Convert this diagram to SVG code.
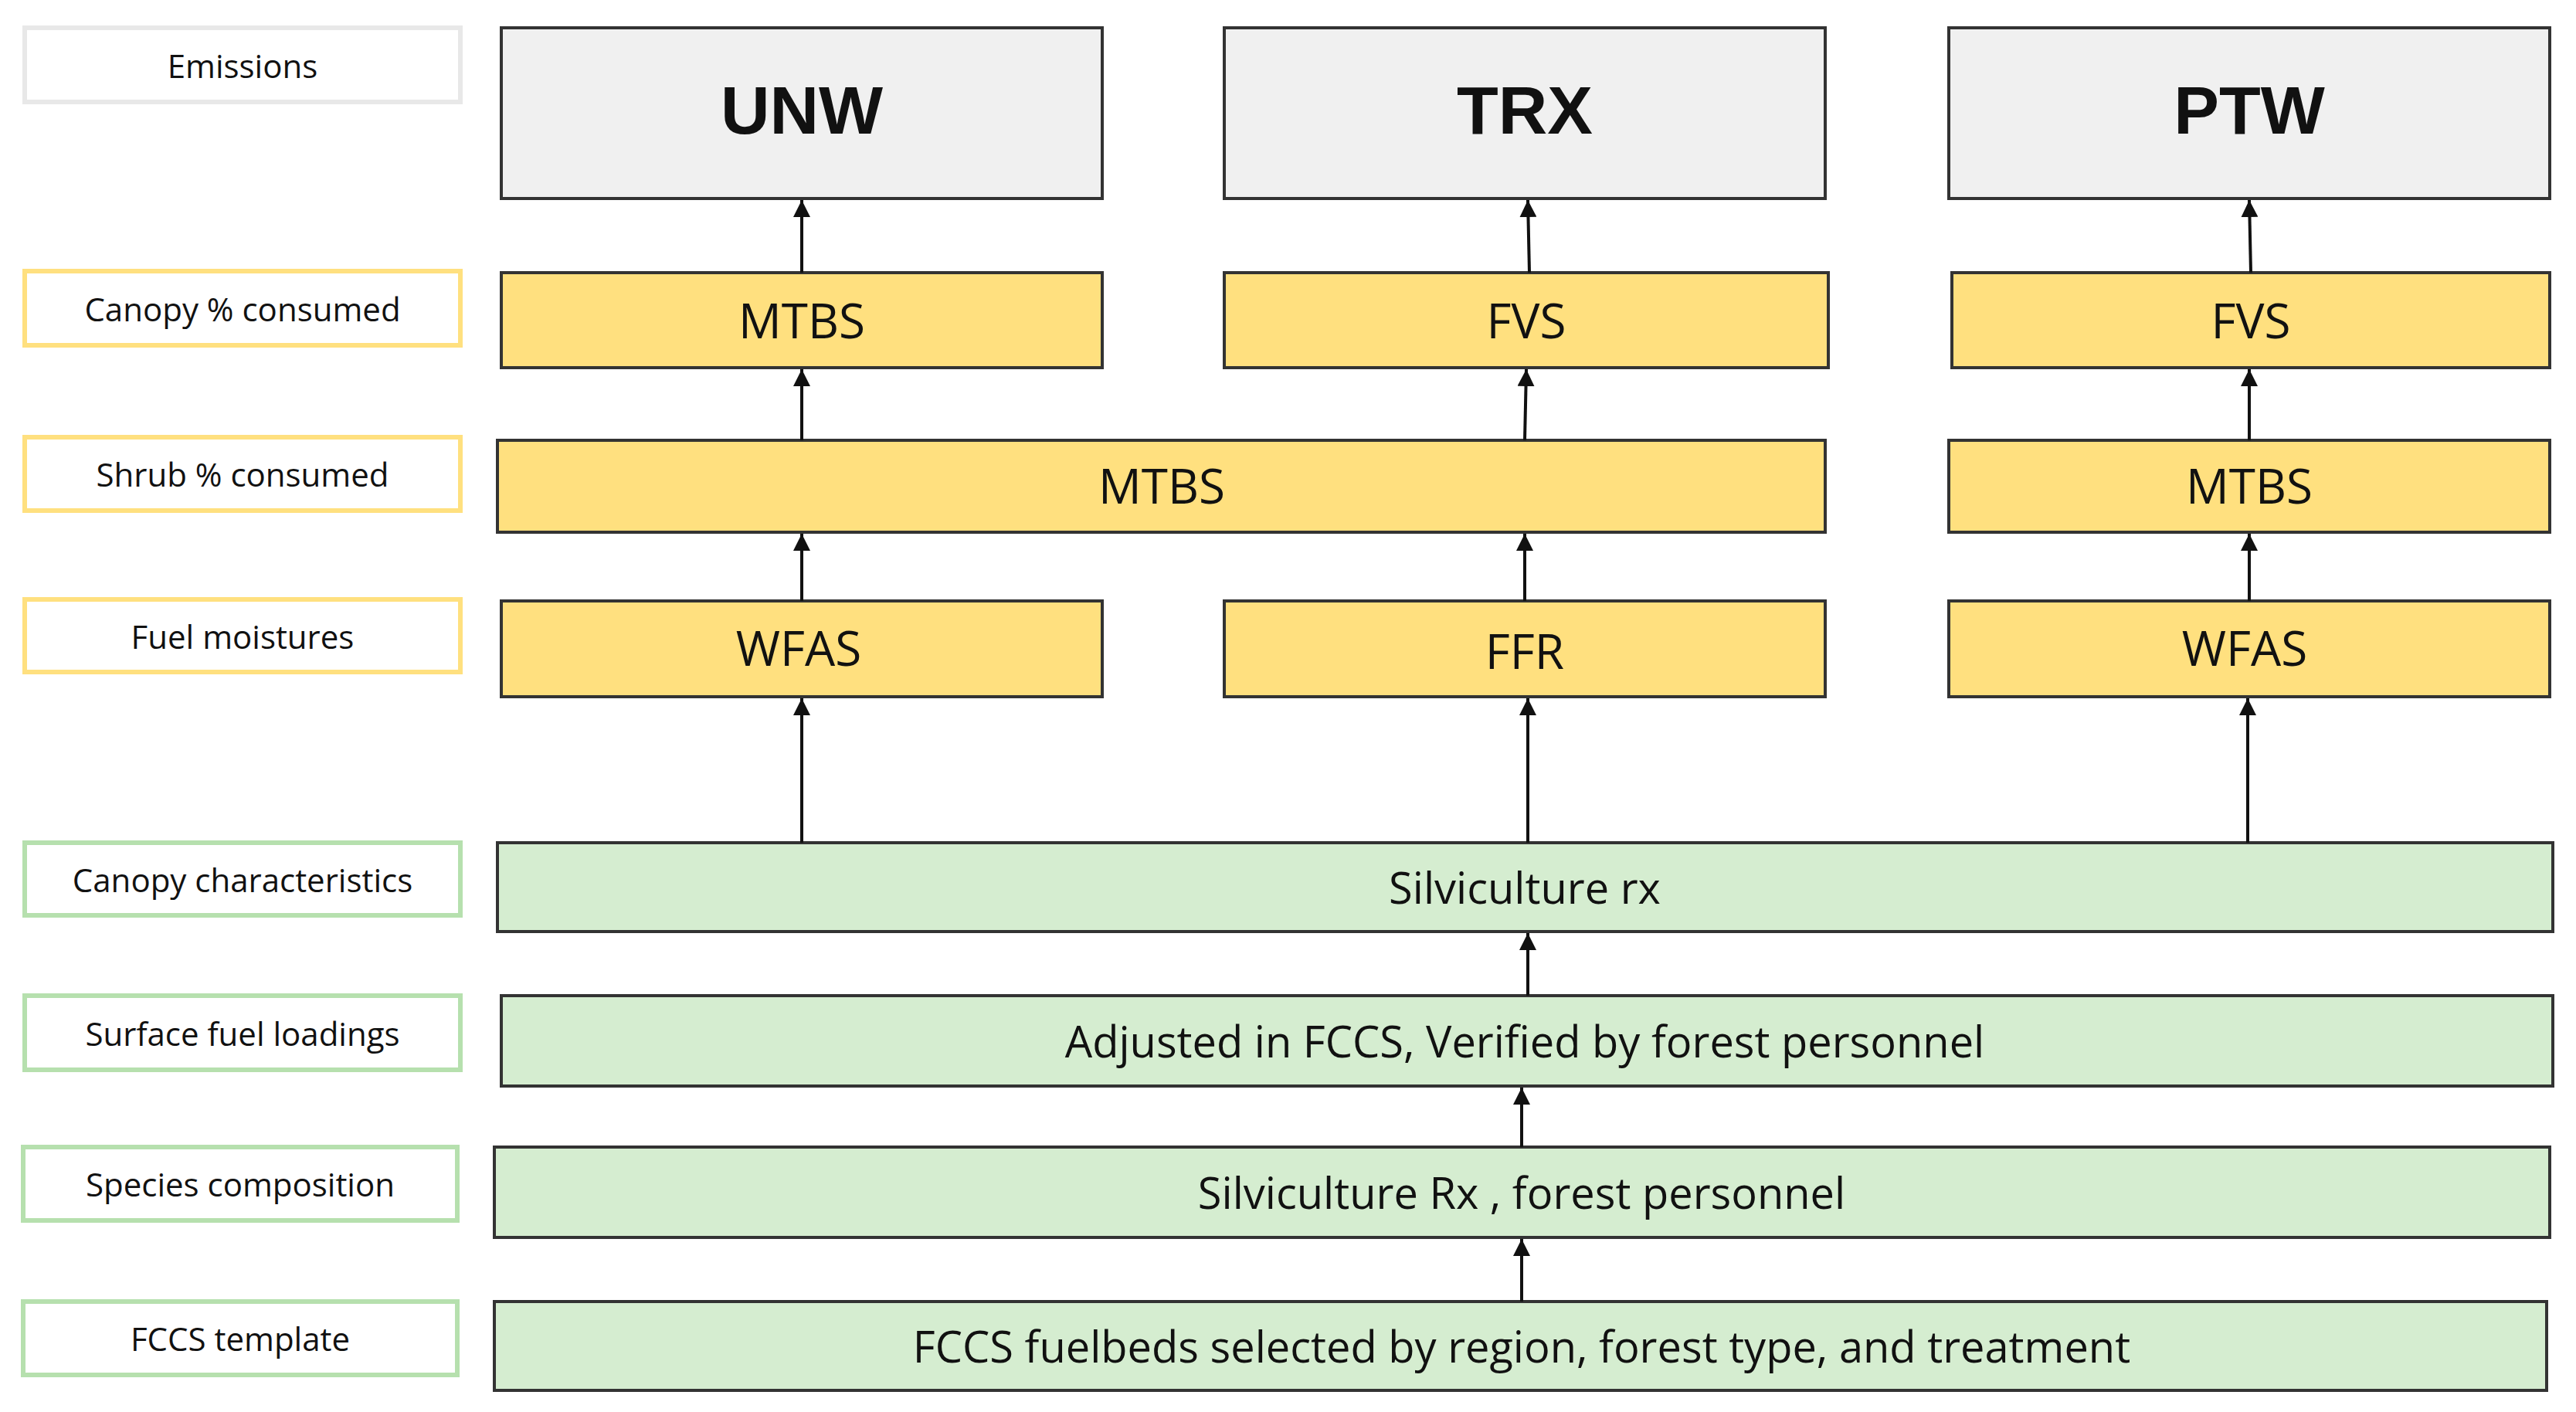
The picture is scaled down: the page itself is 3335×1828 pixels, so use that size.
<svg xmlns="http://www.w3.org/2000/svg" width="3335" height="1828" viewBox="0 0 3335 1828">
<defs><marker id="ah" markerWidth="8" markerHeight="8" refX="7" refY="4" orient="auto" markerUnits="userSpaceOnUse" viewBox="0 0 8 8"><path d="M0,0 L8,4 L0,8 z" fill="#111"/></marker>
<marker id="a" viewBox="0 0 10 10" refX="10" refY="5" markerWidth="22" markerHeight="22" markerUnits="userSpaceOnUse" orient="auto"><path d="M0,0 L10,5 L0,10 z" fill="#111"/></marker></defs>
<style>
text{font-family:"Open Sans","Liberation Sans",sans-serif;text-anchor:middle;dominant-baseline:central;fill:#111}
.lb{fill:#fff;stroke-width:6}
.lg{stroke:#e8e8e8}.ly{stroke:#ffe07f}.lgr{stroke:#b6e0ae}
.lt{font-size:42px}
.em{fill:#f0f0f0;stroke:#333;stroke-width:4}
.y{fill:#ffe07f;stroke:#333;stroke-width:4}
.g{fill:#d5edd0;stroke:#333;stroke-width:4}
.et{font-size:88px;font-weight:bold;font-family:"Liberation Sans",Arial,sans-serif}
.yt{font-size:62px}.gt{font-size:56px}
line{stroke:#111;stroke-width:4;marker-end:url(#a)}
</style>
<g id="labels">
<g id="l1"><rect class="lb lg" x="32" y="36" width="564" height="96"/><text class="lt" x="314" y="84">Emissions</text></g>
<g id="l2"><rect class="lb ly" x="32" y="351" width="564" height="96"/><text class="lt" x="314" y="399">Canopy % consumed</text></g>
<g id="l3"><rect class="lb ly" x="32" y="566" width="564" height="95"/><text class="lt" x="314" y="613">Shrub % consumed</text></g>
<g id="l4"><rect class="lb ly" x="32" y="776" width="564" height="94"/><text class="lt" x="314" y="823">Fuel moistures</text></g>
<g id="l5"><rect class="lb lgr" x="32" y="1091" width="564" height="94"/><text class="lt" x="314" y="1138">Canopy characteristics</text></g>
<g id="l6"><rect class="lb lgr" x="32" y="1289" width="564" height="96"/><text class="lt" x="314" y="1337">Surface fuel loadings</text></g>
<g id="l7"><rect class="lb lgr" x="30" y="1485" width="562" height="95"/><text class="lt" x="311" y="1532">Species composition</text></g>
<g id="l8"><rect class="lb lgr" x="30" y="1685" width="562" height="95"/><text class="lt" x="311" y="1732">FCCS template</text></g>
</g>
<g id="unw"><rect class="em" x="649" y="36" width="778" height="221"/><text class="et" x="1038" y="142">UNW</text></g>
<g id="trx"><rect class="em" x="1585" y="36" width="778" height="221"/><text class="et" x="1974" y="142">TRX</text></g>
<g id="ptw"><rect class="em" x="2523" y="36" width="778" height="221"/><text class="et" x="2912" y="142">PTW</text></g>
<g id="c1"><rect class="y" x="649" y="353" width="778" height="123"/><text class="yt" x="1038" y="414">MTBS</text></g>
<g id="c2"><rect class="y" x="1585" y="353" width="782" height="123"/><text class="yt" x="1976" y="414">FVS</text></g>
<g id="c3"><rect class="y" x="2527" y="353" width="774" height="123"/><text class="yt" x="2914" y="414">FVS</text></g>
<g id="s1"><rect class="y" x="644" y="570" width="1719" height="119"/><text class="yt" x="1504" y="628">MTBS</text></g>
<g id="s2"><rect class="y" x="2523" y="570" width="778" height="119"/><text class="yt" x="2912" y="628">MTBS</text></g>
<g id="f1"><rect class="y" x="649" y="778" width="778" height="124"/><text class="yt" x="1034" y="838">WFAS</text></g>
<g id="f2"><rect class="y" x="1585" y="778" width="778" height="124"/><text class="yt" x="1974" y="842">FFR</text></g>
<g id="f3"><rect class="y" x="2523" y="778" width="778" height="124"/><text class="yt" x="2906" y="838">WFAS</text></g>
<g id="g1"><rect class="g" x="644" y="1091" width="2661" height="115"/><text class="gt" x="1974" y="1148">Silviculture rx</text></g>
<g id="g2"><rect class="g" x="649" y="1289" width="2656" height="117"/><text class="gt" x="1974" y="1347">Adjusted in FCCS, Verified by forest personnel</text></g>
<g id="g3"><rect class="g" x="640" y="1485" width="2661" height="117"/><text class="gt" x="1970" y="1543">Silviculture Rx , forest personnel</text></g>
<g id="g4"><rect class="g" x="640" y="1685" width="2657" height="115"/><text class="gt" x="1970" y="1742">FCCS fuelbeds selected by region, forest type, and treatment</text></g>
<g id="connectors">
<line x1="1038" y1="353" x2="1038" y2="259"/><line x1="1980" y1="353" x2="1978" y2="259"/><line x1="2914" y1="353" x2="2912" y2="259"/>
<line x1="1038" y1="570" x2="1038" y2="478"/><line x1="1974" y1="570" x2="1976" y2="478"/><line x1="2912" y1="570" x2="2912" y2="478"/>
<line x1="1038" y1="778" x2="1038" y2="691"/><line x1="1974" y1="778" x2="1974" y2="691"/><line x1="2912" y1="778" x2="2912" y2="691"/>
<line x1="1038" y1="1091" x2="1038" y2="904"/><line x1="1978" y1="1091" x2="1978" y2="904"/><line x1="2910" y1="1091" x2="2910" y2="904"/>
<line x1="1978" y1="1289" x2="1978" y2="1208"/><line x1="1970" y1="1485" x2="1970" y2="1408"/><line x1="1970" y1="1685" x2="1970" y2="1604"/>
</g>
</svg>
